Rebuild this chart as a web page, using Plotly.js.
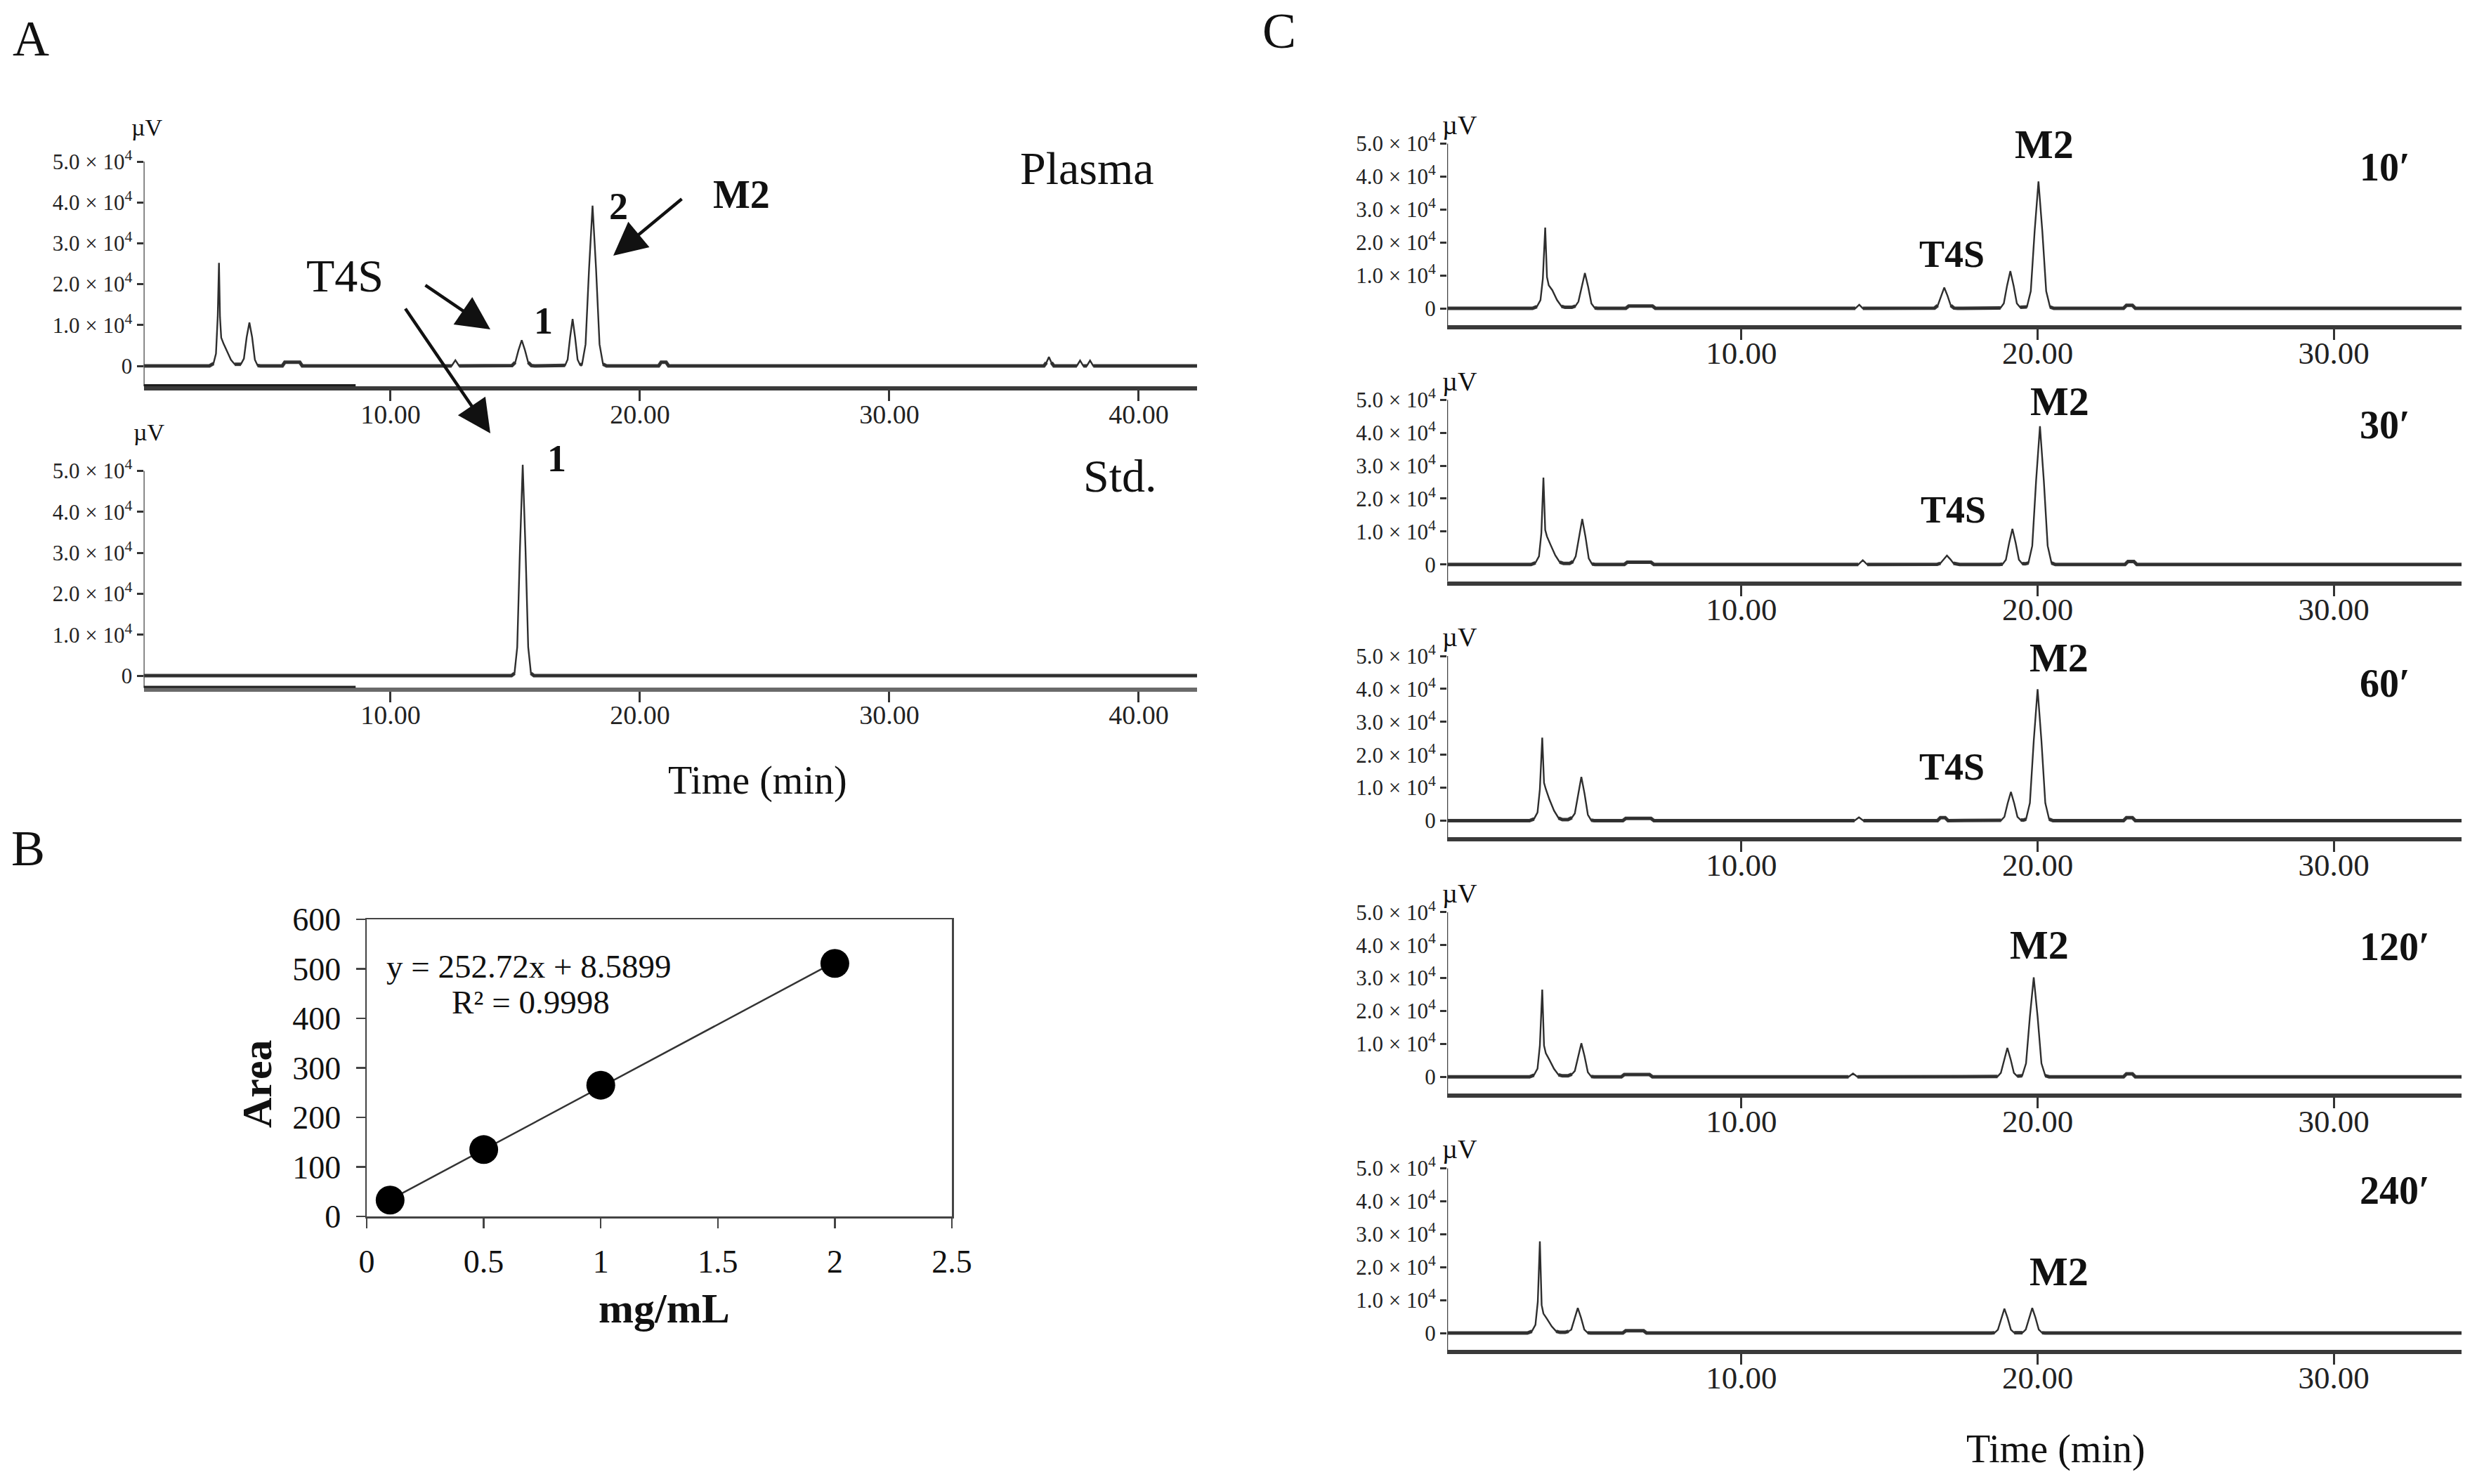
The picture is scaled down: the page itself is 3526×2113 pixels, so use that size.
<!DOCTYPE html>
<html><head><meta charset="utf-8">
<script src="https://cdn.plot.ly/plotly-3.0.1.min.js"></script>
<style>html,body{margin:0;padding:0;background:#fff}#chart{width:3526px;height:2113px}</style>
</head><body><div id="chart"></div>
<script>
const W = 3526, H = 2113;
const FONT = '"Liberation Serif","Times New Roman",serif';

// ---------- Panel A: plasma and standard chromatograms (time in min, signal in µV)
const plasmaTime = [0.1, 2.74, 2.9, 3.0, 3.07, 3.12, 3.16, 3.21, 3.3, 3.45, 3.6, 3.75, 4.0, 4.12, 4.23, 4.34, 4.45, 4.56, 4.67, 4.78, 5.66, 5.76, 6.36, 6.46, 12.45, 12.6, 12.75, 14.74, 14.87, 15.0, 15.13, 15.26, 15.39, 15.52, 15.65, 15.78, 16.9, 17.0, 17.1, 17.2, 17.3, 17.4, 17.5, 17.6, 17.68, 17.82, 17.96, 18.1, 18.24, 18.38, 18.52, 18.66, 20.75, 20.85, 21.05, 21.15, 36.2, 36.3, 36.4, 36.5, 36.6, 37.52, 37.65, 37.78, 37.92, 38.05, 38.18, 42.34];
const plasmaSignal = [0, 0, 600, 3000, 12000, 25200, 12000, 6900, 5500, 3500, 1500, 400, 400, 1800, 7000, 10600, 7000, 1500, 100, 0, 0, 900, 900, 0, 0, 1400, 0, 0, 70, 850, 3850, 6300, 3850, 850, 70, 0, 0, 130, 1550, 7000, 11500, 7000, 1550, 250, 430, 5300, 23800, 39200, 23800, 5300, 430, 0, 0, 900, 900, 0, 0, 800, 2200, 800, 0, 0, 1300, 0, 0, 1300, 0, 0];
const stdTime = [0.1, 14.85, 14.97, 15.08, 15.19, 15.3, 15.41, 15.52, 15.63, 15.75, 42.34];
const stdSignal = [0, 0, 560, 6950, 31200, 51500, 31200, 6950, 560, 0, 0];

// ---------- Panel B: calibration
const calConc = [0.1, 0.5, 1, 2];
const calArea = [33, 135, 265, 511];
const fitSlope = 252.72, fitIntercept = 8.5899;
const calXTicks = [0, 0.5, 1, 1.5, 2, 2.5];
const calXText = ['0', '0.5', '1', '1.5', '2', '2.5'];
const calYTicks = [0, 100, 200, 300, 400, 500, 600];

// ---------- Panel C: incubation time course
const incubationLabels = ['10′', '30′', '60′', '120′', '240′'];
const c10Time = [0.07, 2.95, 3.1, 3.22, 3.3, 3.38, 3.44, 3.5, 3.62, 3.78, 3.93, 4.05, 4.28, 4.4, 4.5, 4.61, 4.72, 4.83, 4.94, 5.05, 5.15, 6.1, 6.2, 7.0, 7.1, 13.85, 13.98, 14.1, 16.41, 16.52, 16.63, 16.74, 16.85, 16.96, 17.07, 17.18, 17.3, 18.64, 18.75, 18.86, 18.97, 19.08, 19.19, 19.3, 19.41, 19.52, 19.64, 19.77, 19.9, 20.03, 20.16, 20.29, 20.42, 20.55, 22.9, 23.0, 23.2, 23.3, 34.31];
const c10Signal = [0, 0, 500, 2500, 9000, 24500, 9500, 7000, 5500, 2500, 600, 300, 300, 700, 2000, 6500, 10700, 6500, 1450, 120, 0, 0, 700, 700, 0, 0, 1100, 0, 0, 70, 850, 3800, 6300, 3800, 850, 70, 0, 0, 120, 1500, 6900, 11300, 6900, 1500, 300, 250, 420, 5200, 23400, 38500, 23400, 5200, 420, 0, 0, 900, 900, 0, 0];
const c30Time = [0.07, 2.9, 3.05, 3.17, 3.25, 3.32, 3.38, 3.44, 3.56, 3.72, 3.87, 4.0, 4.2, 4.32, 4.41, 4.52, 4.63, 4.74, 4.85, 4.96, 5.06, 6.05, 6.15, 6.95, 7.05, 13.95, 14.1, 14.25, 16.5, 16.61, 16.72, 16.83, 16.94, 17.05, 17.16, 17.27, 17.37, 18.71, 18.82, 18.93, 19.04, 19.15, 19.26, 19.37, 19.48, 19.58, 19.69, 19.82, 19.95, 20.08, 20.21, 20.34, 20.47, 20.6, 22.95, 23.05, 23.25, 23.35, 34.31];
const c30Signal = [0, 0, 500, 2500, 9500, 26400, 10500, 8500, 6000, 2800, 700, 300, 300, 900, 2500, 8400, 13800, 8400, 1850, 150, 0, 0, 700, 700, 0, 0, 1300, 0, 0, 30, 370, 1640, 2700, 1640, 370, 30, 0, 0, 120, 1460, 6560, 10800, 6560, 1460, 250, 200, 460, 5670, 25500, 42000, 25500, 5670, 460, 0, 0, 900, 900, 0, 0];
const c60Time = [0.07, 2.85, 3.0, 3.12, 3.2, 3.28, 3.34, 3.4, 3.52, 3.68, 3.83, 3.96, 4.15, 4.28, 4.38, 4.49, 4.6, 4.71, 4.82, 4.93, 5.03, 6.0, 6.1, 6.95, 7.05, 13.82, 13.97, 14.12, 16.62, 16.72, 16.88, 16.98, 18.66, 18.77, 18.88, 18.99, 19.1, 19.21, 19.32, 19.43, 19.52, 19.61, 19.74, 19.87, 20.0, 20.13, 20.26, 20.39, 20.52, 22.9, 23.0, 23.2, 23.3, 34.31];
const c60Signal = [0, 0, 500, 2500, 9500, 25200, 11500, 9600, 6500, 3000, 800, 300, 300, 900, 2200, 8070, 13300, 8070, 1800, 150, 0, 0, 700, 700, 0, 0, 1000, 0, 0, 900, 900, 0, 0, 100, 1170, 5280, 8700, 5280, 1170, 200, 150, 440, 5390, 24200, 39900, 24200, 5390, 440, 0, 0, 900, 900, 0, 0];
const c120Time = [0.07, 2.85, 3.0, 3.12, 3.2, 3.28, 3.34, 3.4, 3.52, 3.68, 3.83, 3.96, 4.15, 4.28, 4.38, 4.49, 4.6, 4.71, 4.82, 4.93, 5.03, 5.95, 6.05, 6.9, 7.0, 13.62, 13.77, 13.92, 18.54, 18.65, 18.76, 18.87, 18.98, 19.09, 19.2, 19.31, 19.4, 19.48, 19.61, 19.74, 19.87, 20.0, 20.13, 20.26, 20.39, 22.9, 23.0, 23.2, 23.3, 34.31];
const c120Signal = [0, 0, 500, 2500, 9500, 26500, 9500, 7200, 5200, 2400, 600, 300, 300, 800, 1800, 6190, 10200, 6190, 1380, 110, 0, 0, 700, 700, 0, 0, 1000, 0, 0, 100, 1190, 5340, 8800, 5340, 1190, 200, 150, 330, 4080, 18300, 30200, 18300, 4080, 330, 0, 0, 900, 900, 0, 0];
const c240Time = [0.07, 2.78, 2.93, 3.05, 3.13, 3.2, 3.26, 3.32, 3.44, 3.6, 3.75, 3.88, 4.05, 4.17, 4.26, 4.37, 4.48, 4.59, 4.7, 4.81, 4.91, 6.0, 6.1, 6.7, 6.8, 18.44, 18.55, 18.66, 18.77, 18.88, 18.99, 19.1, 19.21, 19.35, 19.49, 19.6, 19.71, 19.82, 19.93, 20.04, 20.15, 20.25, 34.31];
const c240Signal = [0, 0, 500, 2500, 9500, 27800, 8500, 5900, 4300, 2000, 500, 200, 200, 500, 1030, 4610, 7600, 4610, 1030, 80, 0, 0, 700, 700, 0, 0, 80, 1000, 4490, 7400, 4490, 1000, 80, 50, 80, 1030, 4610, 7600, 4610, 1030, 80, 0, 0];

// ---------- tick labels
const yTickVals = [0, 10000, 20000, 30000, 40000, 50000];
const yTickText = ['0', '1.0 × 10<sup>4</sup>', '2.0 × 10<sup>4</sup>', '3.0 × 10<sup>4</sup>', '4.0 × 10<sup>4</sup>', '5.0 × 10<sup>4</sup>'];
const aTickVals = [10, 20, 30, 40];
const aTickText = ['10.00', '20.00', '30.00', '40.00'];
const cTickVals = [10, 20, 30];
const cTickText = ['10.00', '20.00', '30.00'];

// ---------- layout helpers (pixel -> paper)
const px = v => v / W;
const py = v => 1 - v / H;
function yDom(zeroPx, per, ymin, ymax) {
  return [py(zeroPx - ymin / 1e4 * per), py(zeroPx - ymax / 1e4 * per)];
}

function chrom(t, v, xa, ya) {
  const near = v.map(y => (y < 950 ? y : null));
  return [
    {x: t, y: near, xaxis: xa, yaxis: ya, mode: 'lines', line: {color: '#3a3a3a', width: 5}, connectgaps: false, hoverinfo: 'skip'},
    {x: t, y: v, xaxis: xa, yaxis: ya, mode: 'lines', line: {color: '#2e2e2e', width: 2.4}, hoverinfo: 'skip'}
  ];
}
function chromX(dom, range, tv, tt, fs, lc, anchor, standoff) {
  return {domain: dom, range: range, tickvals: tv, ticktext: tt, ticks: 'outside', ticklen: 15, tickwidth: 3,
    tickcolor: '#333', showline: true, linewidth: 6, linecolor: lc, showgrid: false, zeroline: false, anchor: anchor,
    ticklabelstandoff: standoff, tickfont: {family: FONT, size: fs, color: '#222'}};
}
function chromY(dom, range, anchor) {
  return {domain: dom, range: range, tickvals: yTickVals, ticktext: yTickText, ticks: 'outside', ticklen: 9, tickwidth: 3,
    tickcolor: '#333', showline: false, showgrid: false, zeroline: false, anchor: anchor,
    tickfont: {family: FONT, size: 31, color: '#222'}};
}
function txt(text, x, y, size, extra) {
  return Object.assign({xref: 'paper', yref: 'paper', x: px(x), y: py(y), text: text, showarrow: false,
    xanchor: 'center', yanchor: 'middle', font: {family: FONT, size: size, color: '#111'}}, extra || {});
}
function arrow(tipX, tipY, tailX, tailY) {
  return {xref: 'paper', yref: 'paper', x: px(tipX), y: py(tipY), ax: tailX - tipX, ay: tailY - tipY, text: '',
    showarrow: true, arrowhead: 2, arrowsize: 2.1, arrowwidth: 4.5, arrowcolor: '#111', standoff: 0, startstandoff: 0};
}

const aX = [px(204.5), px(1704)], aRange = [0.1, 42.34];
const cX = [px(2060), px(3504)], cRange = [0.07, 34.31];
const cZero = i => 439 + 364.75 * i;

const data = [].concat(
  chrom(plasmaTime, plasmaSignal, 'x', 'y'),
  chrom(stdTime, stdSignal, 'x2', 'y2'),
  [
    {x: [calConc[0], calConc[calConc.length - 1]],
     y: [fitSlope * calConc[0] + fitIntercept, fitSlope * calConc[calConc.length - 1] + fitIntercept],
     xaxis: 'x3', yaxis: 'y3', mode: 'lines', line: {color: '#333', width: 2.5}, hoverinfo: 'skip'},
    {x: calConc, y: calArea, xaxis: 'x3', yaxis: 'y3', mode: 'markers', marker: {size: 41, color: '#000'}, hoverinfo: 'skip'}
  ],
  chrom(c10Time, c10Signal, 'x4', 'y4'),
  chrom(c30Time, c30Signal, 'x5', 'y5'),
  chrom(c60Time, c60Signal, 'x6', 'y6'),
  chrom(c120Time, c120Signal, 'x7', 'y7'),
  chrom(c240Time, c240Signal, 'x8', 'y8')
);

const layout = {
  width: W, height: H, margin: {l: 0, r: 0, t: 0, b: 0}, autosize: false,
  paper_bgcolor: '#fff', plot_bgcolor: 'rgba(0,0,0,0)', showlegend: false,
  xaxis: chromX(aX, aRange, aTickVals, aTickText, 38, '#3a3a3a', 'y', -14),
  yaxis: chromY(yDom(521, 58.2, -5000, 56000), [-5000, 56000], 'x'),
  xaxis2: chromX(aX, aRange, aTickVals, aTickText, 38, '#6a6a6a', 'y2', -15),
  yaxis2: chromY(yDom(962, 58.3, -3000, 56000), [-3000, 56000], 'x2'),
  xaxis3: {domain: [px(522), px(1355)], range: [0, 2.5], tickvals: calXTicks, ticktext: calXText, ticks: 'outside',
    ticklen: 14, tickwidth: 2.5, tickcolor: '#444', showline: true, mirror: true, linewidth: 2.5, linecolor: '#444',
    showgrid: false, zeroline: false, anchor: 'y3', ticklabelstandoff: 8, tickfont: {family: FONT, size: 46, color: '#111'}},
  yaxis3: {domain: [py(1732), py(1309)], range: [0, 600], tickvals: calYTicks, ticks: 'outside',
    ticklen: 13, tickwidth: 2.5, tickcolor: '#444', showline: true, mirror: true, linewidth: 2.5, linecolor: '#444',
    showgrid: false, zeroline: false, anchor: 'x3', ticklabelstandoff: 12, tickfont: {family: FONT, size: 46, color: '#111'}},
  shapes: [],
  annotations: []
};

for (let i = 0; i < 5; i++) {
  const n = i + 4;
  layout['xaxis' + n] = chromX(cX, cRange, cTickVals, cTickText, 45, '#3a3a3a', 'y' + n, -20);
  layout['yaxis' + n] = chromY(yDom(cZero(i), 46.9, -5100, 56000), [-5100, 56000], 'x' + n);
  layout.shapes.push({type: 'line', xref: 'x' + n, yref: 'y' + n, x0: cRange[0], x1: cRange[0], y0: -5100, y1: 50000,
    line: {color: '#444', width: 2.5}});
  layout.annotations.push(txt('µV', 2078, 178 + 364.5 * i, 38));
}
// y-axis lines panel A
layout.shapes.push({type: 'line', xref: 'x', yref: 'y', x0: aRange[0], x1: aRange[0], y0: -5000, y1: 50000, line: {color: '#444', width: 2.5}});
layout.shapes.push({type: 'line', xref: 'x2', yref: 'y2', x0: aRange[0], x1: aRange[0], y0: -3000, y1: 50000, line: {color: '#444', width: 2.5}});
// darker start of the time axis in panel A
layout.shapes.push({type: 'line', xref: 'x', yref: 'y', x0: aRange[0], x1: 8.6, y0: -5000, y1: -5000, line: {color: '#1e1e1e', width: 6}});
layout.shapes.push({type: 'line', xref: 'x2', yref: 'y2', x0: aRange[0], x1: 8.6, y0: -3000, y1: -3000, line: {color: '#222', width: 6}});

const B = s => '<b>' + s + '</b>';
layout.annotations.push(
  txt('A', 44, 55, 72), txt('B', 40, 1208, 72), txt('C', 1821, 44, 72),
  // panel A
  txt('µV', 209, 182, 34), txt('Plasma', 1547, 240, 66), txt(B('M2'), 1055, 277, 56),
  txt(B('2'), 880, 294, 54), txt(B('1'), 773, 457, 54), txt('T4S', 491, 393, 66),
  txt('µV', 212, 615, 34), txt(B('1'), 792, 653, 54), txt('Std.', 1594, 678, 66),
  txt('Time (min)', 1078, 1111, 56),
  arrow(873, 364, 972, 282), arrow(698, 469, 604, 405), arrow(698, 617, 576, 438),
  // panel B
  txt('y = 252.72x + 8.5899', 753, 1376, 47), txt('R² = 0.9998', 755, 1427, 47),
  txt(B('Area'), 366, 1543, 60, {textangle: -90}), txt(B('mg/mL'), 945, 1863, 60),
  // panel C
  txt(B('M2'), 2910, 205, 58), txt(B('T4S'), 2778, 362, 54),
  txt(B('M2'), 2932, 572, 58), txt(B('T4S'), 2780, 726, 54),
  txt(B('M2'), 2931, 936, 58), txt(B('T4S'), 2778, 1092, 54),
  txt(B('M2'), 2903, 1345, 58),
  txt(B('M2'), 2931, 1810, 58),
  txt('Time (min)', 2926, 2063, 56)
);
const labelY = [238, 605, 973, 1348, 1695];
incubationLabels.forEach((lab, i) => layout.annotations.push(txt(B(lab), 3357, labelY[i], 56, {xanchor: 'left'})));

Plotly.newPlot('chart', data, layout, {displayModeBar: false, staticPlot: true});
</script>
</body></html>
